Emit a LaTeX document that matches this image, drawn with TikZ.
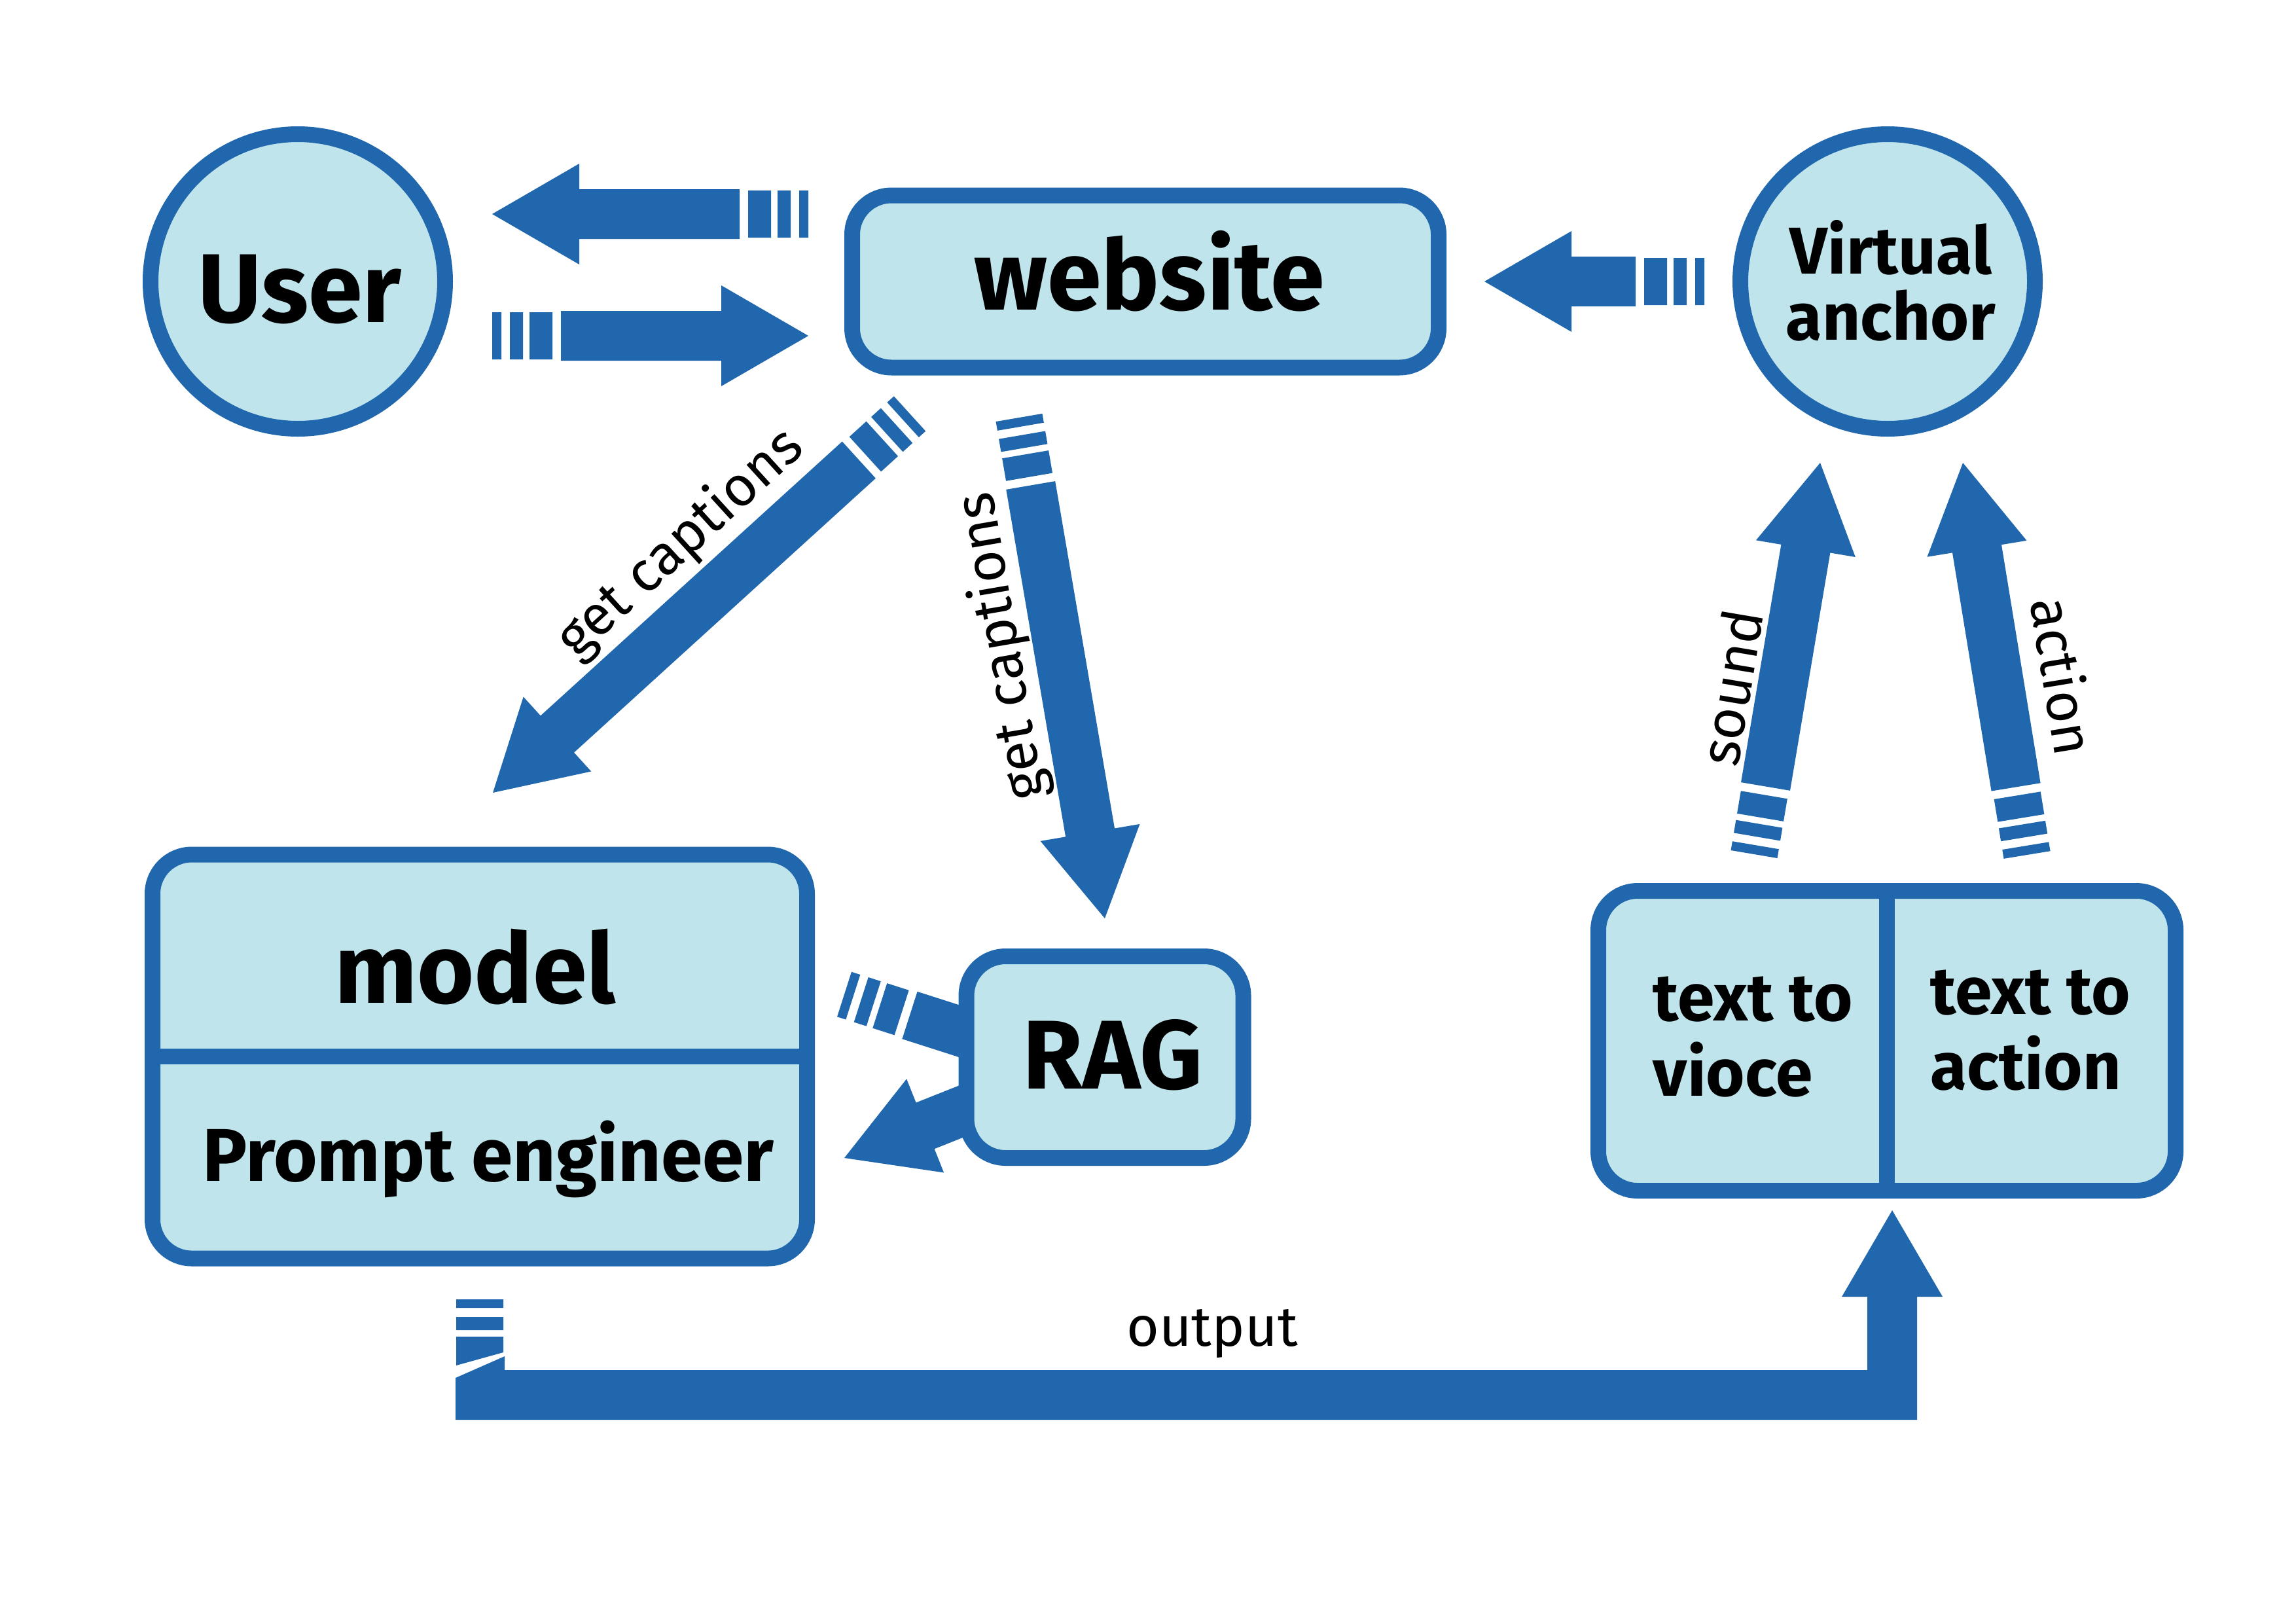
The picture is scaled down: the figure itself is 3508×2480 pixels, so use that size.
\documentclass[tikz,border=0pt]{standalone}
\usepackage{fontspec}
\setmainfont{Fira Sans}
\usetikzlibrary{calc}

\definecolor{flowblue}{HTML}{2067AD}
\definecolor{flowfill}{HTML}{BFE4EC}

\tikzset{
  block/.style={draw=flowblue, fill=flowfill, line width=2.4mm, rounded corners=6mm, inner sep=0pt},
  bubble/.style={circle, draw=flowblue, fill=flowfill, line width=2.4mm, inner sep=0pt, minimum size=45mm},
  divider/.style={draw=flowblue, line width=2.4mm},
  bigname/.style={font=\fontsize{42.5}{42.5}\selectfont\bfseries, inner sep=0pt, anchor=base},
  midname/.style={font=\fontsize{29}{32.7}\selectfont\bfseries, inner sep=0pt, anchor=base},
  flowlabel/.style={font=\fontsize{24.3}{24.3}\selectfont, inner sep=0pt},
}

% thick arrow with a striped tail, from tail #1 to tip #2
\newcommand{\stripearrow}[2]{%
  \path let \p1 = ($(#2)-(#1)$) in \pgfextra{%
    \pgfmathparse{atan2(\y1,\x1)}\xdef\arrang{\pgfmathresult}%
    \pgfmathparse{veclen(\x1,\y1)/0.284527}\xdef\arrlen{\pgfmathresult}};
  \begin{scope}[shift={(#1)}, rotate=\arrang, x=0.1mm, y=0.1mm]
    \fill[flowblue] (0,-36) rectangle (14,36) (27,-36) rectangle (47,36) (57,-36) rectangle (92,36);
    \fill[flowblue] (105,-38) -- (\arrlen-133,-38) -- (\arrlen-133,-77) -- (\arrlen,0)
      -- (\arrlen-133,77) -- (\arrlen-133,38) -- (105,38) -- cycle;
  \end{scope}}

\begin{document}
\begin{tikzpicture}[x=0.1mm, y=-0.1mm]
  \fill[white] (0,0) rectangle (3508,2480);
  \useasboundingbox (0,0) rectangle (3508,2480);

  % arrow ends
  \coordinate (a1) at (1235,327);  \coordinate (b1) at (752,327);
  \coordinate (a2) at (752,513);   \coordinate (b2) at (1235,513);
  \coordinate (a3) at (2604,430);  \coordinate (b3) at (2268,430);
  \coordinate (a4) at (1390,632);  \coordinate (b4) at (753,1211);
  \coordinate (a5) at (1557,638);  \coordinate (b5) at (1688,1403);
  \coordinate (a6) at (1290,1519); \coordinate (b6) at (1652,1635);
  \coordinate (a7) at (1662,1621); \coordinate (b7) at (1290,1769);
  \coordinate (a8) at (2680,1305); \coordinate (b8) at (2781,707);
  \coordinate (a9) at (3097,1306); \coordinate (b9) at (2999,707);
  \coordinate (o1) at (733,1985);  \coordinate (o2) at (2891,1849);

  \foreach \i in {1,...,9} {\stripearrow{a\i}{b\i}}

  % output arrow
  \fill[flowblue] ($(o1)+(-36,0)$) rectangle ++(72,13)
    ($(o1)+(-36,27)$) rectangle ++(72,20)
    ($(o1)+(-36,57)$) -- ++(72,0) -- ++(0,24) -- ++(-72,20) -- cycle;
  \fill[flowblue] ($(o1)+(-37,120)$) -- ($(o1)+(38,87)$) |- ($(o2)+(-38,244)$)
    -- ($(o2)+(-38,132)$) -- ($(o2)+(-77,132)$) -- (o2) -- ($(o2)+(77,132)$)
    -- ($(o2)+(38,132)$) -- ($(o2)+(38,320)$) -- ($(o1)+(-37,184)$) -- cycle;

  % blocks
  \node[bubble] (user) at (455,430) {};
  \node[block, minimum width=89.6mm, minimum height=26.3mm] (website) at (1750,430) {};
  \node[bubble] (vanchor) at (2884,430) {};
  \node[block, minimum width=100mm, minimum height=61.7mm] (model) at (733,1614) {};
  \draw[divider] (model.west) -- (model.east);
  \node[block, minimum width=42.3mm, minimum height=30.8mm] (rag) at (1688,1615) {};
  \node[block, minimum width=88.2mm, minimum height=45.8mm] (tts) at (2883,1590) {};
  \draw[divider] (tts.north) -- (tts.south);

  % texts
  \node[bigname] (usertext) at (458,492) {User};
  \node[bigname] (webtext) at (1756,473) {website};
  \node[midname, align=center, font=\fontsize{28.8}{28.7}\selectfont\bfseries] (anchortext) at (2889,519) {Virtual\\anchor};
  \node[bigname] (modeltext) at (726,1532) {model};
  \node[midname, font=\fontsize{32.5}{32.5}\selectfont\bfseries] (prompttext) at (746,1804) {Prompt engineer};
  \node[bigname] (ragtext) at (1700,1663) {RAG};
  \node[midname, anchor=base west, align=left] (voicetext) at (2525,1674) {text to\\vioce};
  \node[midname, anchor=base west, align=left] (actiontext) at (2949,1664) {text to\\action};

  % arrow labels
  \node[flowlabel, rotate=42.3] (cap1) at (1040,831) {get captions};
  \node[flowlabel, rotate=99.7] (cap2) at (1532,987) {get captions};
  \node[flowlabel, rotate=80.4] (soundtext) at (2644,1050) {sound};
  \node[flowlabel, rotate=-80.7] (actlabel) at (3153,1033) {action};
  \node[flowlabel, anchor=base] (outtext) at (1852,2056) {output};
\end{tikzpicture}
\end{document}
